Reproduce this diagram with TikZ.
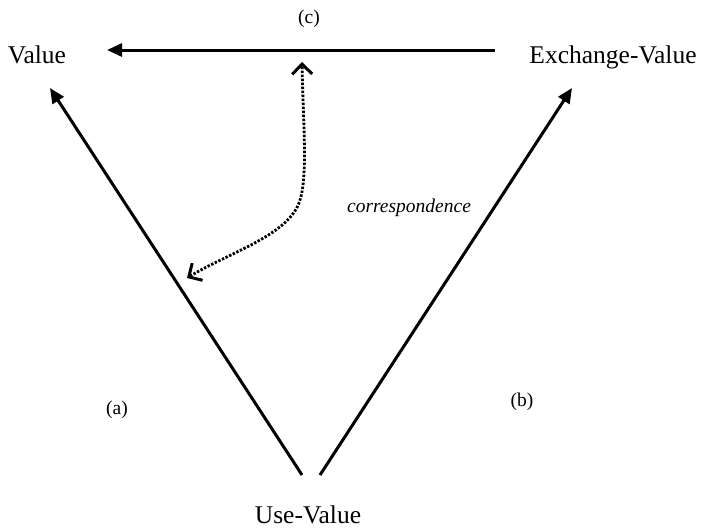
\documentclass[tikz,border=0pt]{standalone}
\usepackage{fontspec}
\setmainfont{Liberation Serif}
\usetikzlibrary{arrows.meta}

\tikzset{
  big/.style={font=\fontsize{25.5}{30}\selectfont, inner sep=0pt},
  small/.style={font=\fontsize{19.5}{23}\selectfont, inner sep=0pt},
  arr/.style={line width=3pt, -{Triangle[length=15pt,width=13pt]}},
  dots/.style={line width=2.8pt, dash pattern=on 2.4pt off 1.6pt,
    {Straight Barb[length=10pt,width=20pt,line width=3pt]}-{Straight Barb[length=10pt,width=20pt,line width=3pt]}}
}

\begin{document}
\begin{tikzpicture}[x=1pt,y=-1pt]
  \useasboundingbox (0,0) rectangle (701,530);

  % Corner terms
  \node[big, anchor=base] (value) at (37,63) {Value};
  \node[big, anchor=base] (exchange) at (613,63) {Exchange-Value};
  \node[big, anchor=base] (use) at (308,523) {Use-Value};

  % Side labels
  \node[small] (c) at (309,19) {(c)};
  \node[small] (a) at (117,410) {(a)};
  \node[small] (b) at (522,402) {(b)};
  \node[small, font=\fontsize{19.5}{23}\selectfont\itshape] (corrtext) at (409,208) {correspondence};

  % Line ends
  \coordinate (hE) at (495,50);
  \coordinate (hV) at (107,50);
  \coordinate (uL) at (302,475);
  \coordinate (tL) at (50,88);
  \coordinate (uR) at (320,475);
  \coordinate (tR) at (572,88);
  \coordinate (onA) at (187,278);
  \coordinate (onC) at (302,62);

  % Triangle of arrows
  \draw[arr] (hE) -- (hV);
  \draw[arr] (uL) -- (tL);
  \draw[arr] (uR) -- (tR);

  % Correspondence
  \draw[dots] (onA) .. controls (230,252) and (290,235) .. (300,200)
    .. controls (308,175) and (303,120) .. (onC);
\end{tikzpicture}
\end{document}
